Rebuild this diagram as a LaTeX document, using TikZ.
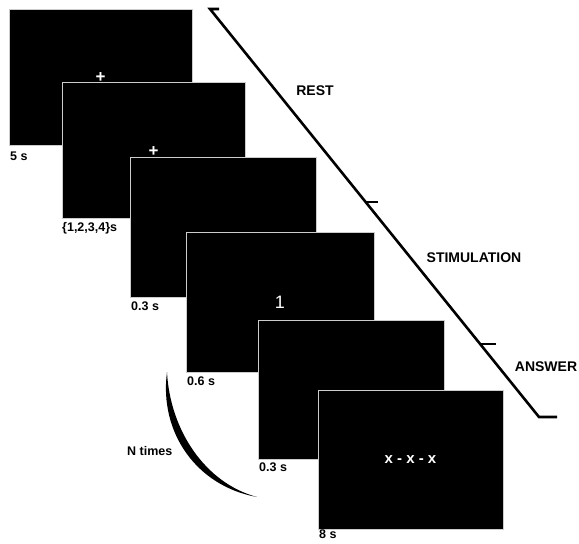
\documentclass[tikz,border=0pt]{standalone}
\usepackage{fontspec}
\setmainfont{Liberation Sans}
\usetikzlibrary{calc}
\begin{document}
\begin{tikzpicture}[x=1pt,y=-1pt,
  screen/.style={fill=black,draw=black!20,line width=0.8pt,inner sep=0pt,outer sep=0pt,
    anchor=north west,text=white},
  lab/.style={font=\fontsize{12.5}{14}\selectfont\bfseries,anchor=base west,inner sep=0pt},
  phase/.style={font=\fontsize{14}{16}\selectfont\bfseries,inner sep=0pt},
  cross/.style={text=white,font=\fontsize{17}{18}\selectfont\bfseries,inner sep=0pt},
  timeline/.style={line width=2.6pt,line join=miter}]
\useasboundingbox (0,0) rectangle (579,544);
% screens
\node[screen,minimum width=183pt,minimum height=136pt] (s1) at (9,9) {};
\node[cross] (p1) at ($(s1.center)+(0,1)$) {+};
\node[screen,minimum width=183pt,minimum height=136pt] (s2) at (62,82) {};
\node[cross] (p2) at ($(s2.center)+(0,2)$) {+};
\node[screen,minimum width=186pt,minimum height=140pt] (s3) at (130,157) {};
\node[screen,minimum width=188pt,minimum height=140pt,font=\fontsize{18}{20}\selectfont] (s4) at (186,232) {1};
\node[screen,minimum width=186pt,minimum height=139pt] (s5) at (258,320) {};
\node[screen,minimum width=185pt,minimum height=139pt,font=\fontsize{15}{18}\selectfont\bfseries] (s6) at (318,390) {x - x - x};
% durations
\node[lab] (l1) at (10,160) {5 s};
\node[lab] (l2) at (62,231) {\{1,2,3,4\}s};
\node[lab] (l3) at (131,310) {0.3 s};
\node[lab] (l4) at (187,385) {0.6 s};
\node[lab] (l5) at (259,471) {0.3 s};
\node[lab] (l6) at (319,538) {8 s};
% repetition
\coordinate (c1) at (167,372);
\coordinate (c2) at (257,497);
\fill (c1) .. controls (159,432) and (196,486) .. (c2)
      .. controls (205,483) and (170,430) .. (c1);
\node[lab] (nt) at (127,455) {N times};
% timeline
\coordinate (t0) at (219,9);
\coordinate (t1) at (210,9);
\coordinate (t2) at (539,417);
\coordinate (t3) at (557,417);
\coordinate (k1) at ($(t1)!0.473!(t2)$);
\coordinate (k2) at ($(t1)!0.821!(t2)$);
\draw[timeline] (t0) -- (t1) -- (t2) -- (t3);
\draw[timeline] (k1) -- ++(12,0);
\draw[timeline] (k2) -- ++(16,0);
\node[phase] (rest) at (315,91) {REST};
\node[phase] (stim) at (474,258) {STIMULATION};
\node[phase] (ans) at (546,367) {ANSWER};
\end{tikzpicture}
\end{document}
